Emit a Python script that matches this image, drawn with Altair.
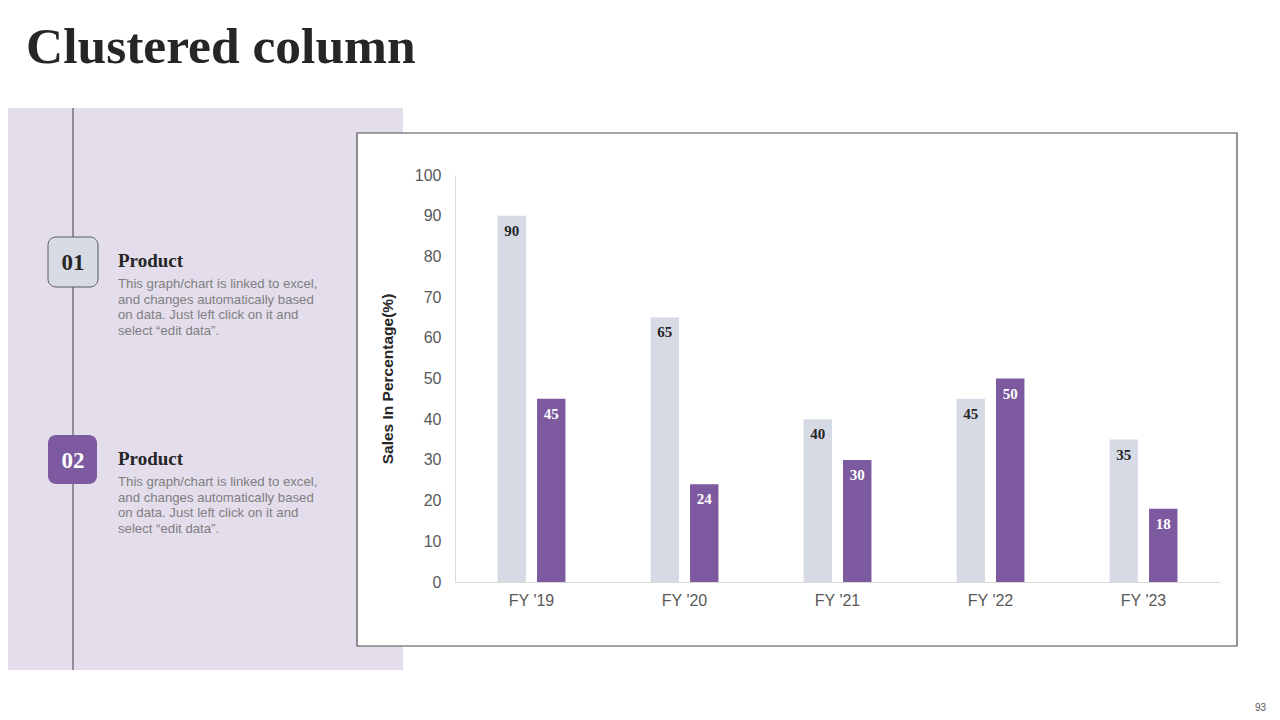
import altair as alt
import pandas as pd

# ---- data ----
years = ["FY '19", "FY '20", "FY '21", "FY '22", "FY '23"]
series_names = ["Product 01", "Product 02"]
product_01 = [90, 65, 40, 45, 35]
product_02 = [45, 24, 30, 50, 18]
y_ticks = [0, 10, 20, 30, 40, 50, 60, 70, 80, 90, 100]

title_text = "Clustered column"
y_title = "Sales In Percentage(%)"
desc_text = "This graph/chart is linked to excel,\nand changes automatically based\non data. Just left click on it and\nselect \u201cedit data\u201d."
page_no = "93"

rows = []
for i, yr in enumerate(years):
    rows.append({"year": yr, "series": series_names[0], "value": product_01[i]})
    rows.append({"year": yr, "series": series_names[1], "value": product_02[i]})
df = pd.DataFrame(rows)

W, H = 1264, 704
def X(px):
    return px - 8
def Y(py):
    return py - 8

one = pd.DataFrame({"k": [0]})
base = alt.Chart(one)

LIGHT = "#D6DAE5"
PURPLE = "#7D5AA0"
PANEL = "#E3DDEC"
DARK = "#262626"

panel = base.mark_rect(color=PANEL).encode(
    x=alt.value(X(0)), x2=alt.value(X(403)), y=alt.value(Y(108)), y2=alt.value(Y(670)))
vline = base.mark_rule(color="#595959", strokeWidth=1.2).encode(
    x=alt.value(X(73)), y=alt.value(Y(108)), y2=alt.value(Y(670)))
box1 = base.mark_rect(fill="#D6DBE4", stroke="#595959", strokeWidth=1, cornerRadius=8).encode(
    x=alt.value(X(48)), x2=alt.value(X(98)), y=alt.value(Y(237)), y2=alt.value(Y(287)))
box2 = base.mark_rect(fill=PURPLE, cornerRadius=8).encode(
    x=alt.value(X(48)), x2=alt.value(X(97)), y=alt.value(Y(435)), y2=alt.value(Y(484)))
num1 = base.mark_text(font="Liberation Serif", fontWeight="bold", fontSize=23, color=DARK,
                      align="center", baseline="middle").encode(
    x=alt.value(X(73)), y=alt.value(Y(263)), text=alt.value("01"))
num2 = base.mark_text(font="Liberation Serif", fontWeight="bold", fontSize=23, color="white",
                      align="center", baseline="middle").encode(
    x=alt.value(X(73)), y=alt.value(Y(461)), text=alt.value("02"))
head1 = base.mark_text(font="Liberation Serif", fontWeight="bold", fontSize=19, color=DARK,
                       align="left", baseline="middle").encode(
    x=alt.value(X(118)), y=alt.value(Y(261)), text=alt.value("Product"))
head2 = base.mark_text(font="Liberation Serif", fontWeight="bold", fontSize=19, color=DARK,
                       align="left", baseline="middle").encode(
    x=alt.value(X(118)), y=alt.value(Y(459)), text=alt.value("Product"))
desc1 = base.mark_text(font="Liberation Sans", fontSize=13.2, color="#7F7F7F", align="left",
                       baseline="middle", lineBreak="\n", lineHeight=15.7).encode(
    x=alt.value(X(118)), y=alt.value(Y(284)), text=alt.value(desc_text))
desc2 = base.mark_text(font="Liberation Sans", fontSize=13.2, color="#7F7F7F", align="left",
                       baseline="middle", lineBreak="\n", lineHeight=15.7).encode(
    x=alt.value(X(118)), y=alt.value(Y(482)), text=alt.value(desc_text))
title = base.mark_text(font="Liberation Serif", fontWeight="bold", fontSize=51.5, color=DARK,
                       align="left", baseline="alphabetic").encode(
    x=alt.value(X(26)), y=alt.value(Y(63)), text=alt.value(title_text))
pnum = base.mark_text(font="Liberation Sans", fontSize=10, color="#595959",
                      align="right", baseline="middle").encode(
    x=alt.value(X(1266)), y=alt.value(Y(708)), text=alt.value(page_no))
frame = base.mark_rect(fill="white", stroke="#4D4D4D", strokeWidth=1.2).encode(
    x=alt.value(X(357)), x2=alt.value(X(1237)), y=alt.value(Y(133)), y2=alt.value(Y(646)))
ytitle = base.mark_text(font="Liberation Sans", fontWeight="bold", fontSize=15.5, color=DARK,
                        angle=270, align="center", baseline="middle").encode(
    x=alt.value(X(388)), y=alt.value(Y(379)), text=alt.value(y_title))

x_enc = alt.X("year:N", sort=years,
              scale=alt.Scale(range=[X(455), X(1220)], paddingInner=0.298, paddingOuter=0.149),
              axis=alt.Axis(title=None, labelAngle=0, ticks=False, domainColor="#D9D9D9",
                            labelFont="Liberation Sans", labelFontSize=16, labelColor="#595959",
                            labelPadding=10, offset=-(H - Y(582)), zindex=1))
y_enc = alt.Y("value:Q",
              scale=alt.Scale(domain=[0, 100], range=[Y(582), Y(175)], nice=False),
              axis=alt.Axis(title=None, values=y_ticks, grid=False, ticks=False,
                            domainColor="#D9D9D9", labelFont="Liberation Sans",
                            labelFontSize=16, labelColor="#595959", labelPadding=14,
                            offset=-X(455), zindex=1))
xoff = alt.XOffset("series:N", sort=series_names,
                   scale=alt.Scale(paddingInner=0.28, paddingOuter=0.5))

bars = alt.Chart(df).mark_bar().encode(
    x=x_enc, y=y_enc, xOffset=xoff,
    color=alt.Color("series:N", sort=series_names,
                    scale=alt.Scale(domain=series_names, range=[LIGHT, PURPLE]), legend=None))
labels = alt.Chart(df).mark_text(font="Liberation Serif", fontWeight="bold", fontSize=15,
                                 baseline="middle", dy=15).encode(
    x=x_enc, y=y_enc, xOffset=xoff, text=alt.Text("value:Q"),
    color=alt.Color("series:N", sort=series_names,
                    scale=alt.Scale(domain=series_names, range=[DARK, "#FFFFFF"]), legend=None))

chart = alt.layer(
    panel, vline, box1, box2, num1, num2, head1, head2, desc1, desc2, title, pnum,
    frame, ytitle, bars, labels
).resolve_scale(color="independent").properties(
    width=W, height=H, autosize=alt.AutoSizeParams(type="none"), padding=0
).configure_view(stroke=None)

chart.save("out.html", embed_options={"renderer": "svg", "actions": False})
